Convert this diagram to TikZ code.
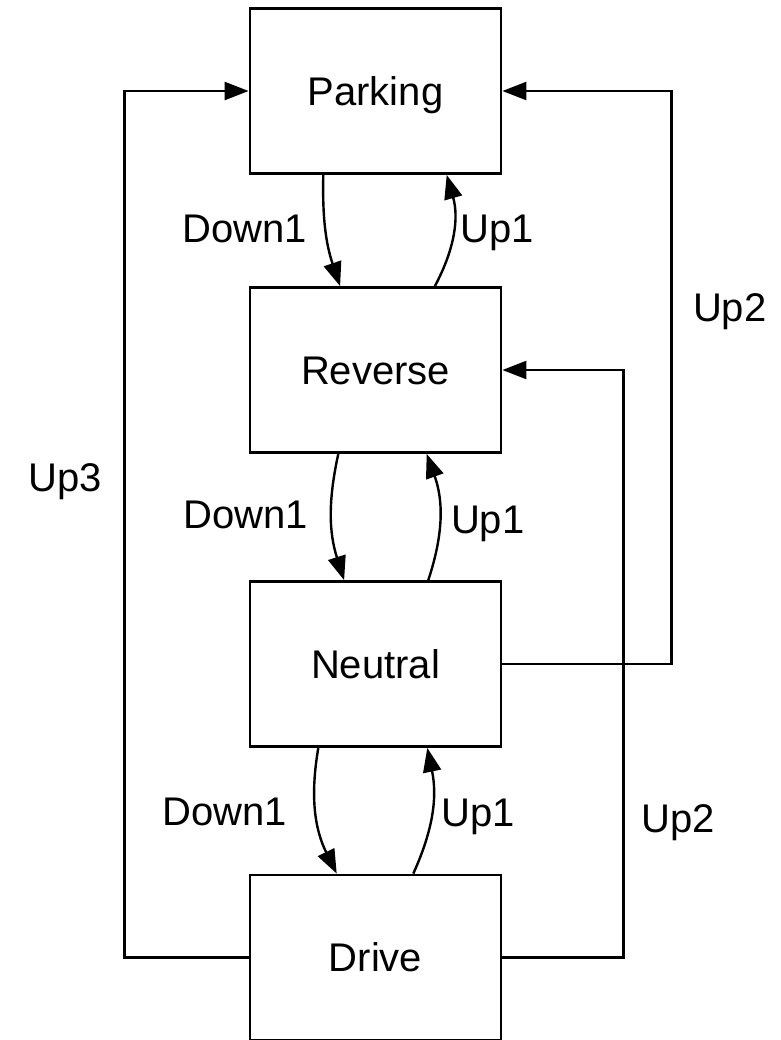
\documentclass[tikz,border=0pt]{standalone}
\usepackage{fontspec}
\setmainfont{Liberation Sans}
\usetikzlibrary{arrows.meta}

\tikzset{
	etat/.style={draw, line width=1.4pt, minimum width=125.5pt, minimum height=82.5pt, inner sep=0pt, text height=14.3pt, text depth=0pt},
	etiq/.style={inner sep=0pt, text height=14.3pt, text depth=0pt},
	fleche/.style={line width=1.2pt, -{Triangle[length=12pt,width=9pt]}}
}

\begin{document}
\begin{tikzpicture}[x=0.5pt, y=-0.5pt, font=\fontsize{20}{24}\selectfont]
		\useasboundingbox (0,0) rectangle (781,1040);
		% etats
		\node[etat] (parking) at (375.5,91) {Parking};
		\node[etat] (reverse) at (375.5,370) {Reverse};
		\node[etat] (neutral) at (375.5,664) {Neutral};
		\node[etat] (drive) at (375.5,957.5) {Drive};
		% transitions entre voisins
		\draw[fleche] ([xshift=-26.1pt]parking.south) to[bend right=10] ([xshift=-17.7pt]reverse.north);
		\draw[fleche] ([xshift=29.7pt]reverse.north) to[bend right=22] ([xshift=35.6pt]parking.south);
		\draw[fleche] ([xshift=-18.6pt]reverse.south) to[bend right=15] ([xshift=-15.7pt]neutral.north);
		\draw[fleche] ([xshift=26.4pt]neutral.north) to[bend right=19] ([xshift=25.6pt]reverse.south);
		\draw[fleche] ([xshift=-28.6pt]neutral.south) to[bend right=18] ([xshift=-19.4pt]drive.north);
		\draw[fleche] ([xshift=18.9pt]drive.north) to[bend right=18] ([xshift=25.9pt]neutral.south);
		\node[etiq] (down1a) at (244.7,228.3) {Down1};
		\node[etiq] (up1a) at (497.5,228.5) {Up1};
		\node[etiq] (down1b) at (245.8,514.2) {Down1};
		\node[etiq] (up1b) at (487.7,518.7) {Up1};
		\node[etiq] (down1c) at (224.7,810.8) {Down1};
		\node[etiq] (up1c) at (478.3,812) {Up1};
		% sauts
		\draw[fleche] (drive.west) -- ++(-124,0) |- (parking.west);
		\draw[fleche] (neutral.east) -- ++(169,0) |- (parking.east);
		\draw[fleche] (drive.east) -- ++(121,0) |- (reverse.east);
		\node[etiq] (up3) at (65,477) {Up3};
		\node[etiq] (up2a) at (729.7,307) {Up2};
		\node[etiq] (up2b) at (678,818) {Up2};
\end{tikzpicture}
\end{document}
